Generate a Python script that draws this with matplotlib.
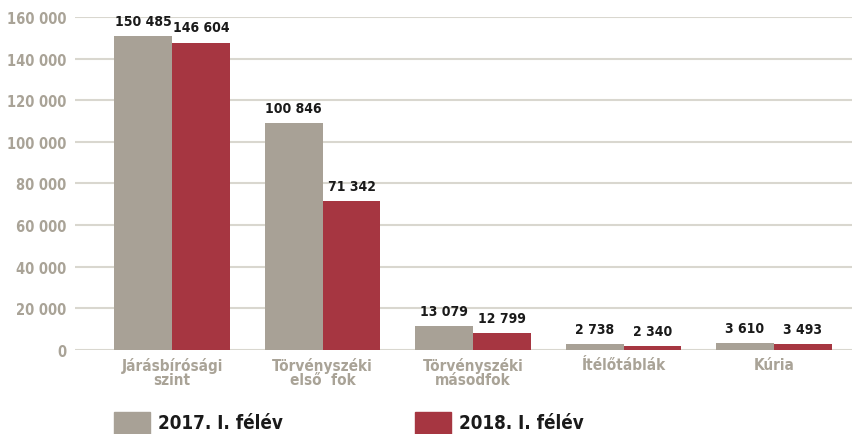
import numpy as np
import matplotlib.pyplot as plt
from matplotlib import font_manager
from matplotlib.patches import Rectangle

categories = ['Járásbírósági\nszint', 'Törvényszéki\nelső  fok', 'Törvényszéki\nmásodfok',
              'Ítélőtáblák', 'Kúria']
series_names = ['2017. I. félév', '2018. I. félév']
# bar heights as drawn in the picture
h2017 = [150800, 109000, 11400, 2700, 3200]
h2018 = [147700, 71500, 8000, 1800, 2700]
# value labels as printed above the bars
lab2017 = ['150 485', '100 846', '13 079', '2 738', '3 610']
lab2018 = ['146 604', '71 342', '12 799', '2 340', '3 493']
yticks = [0, 20000, 40000, 60000, 80000, 100000, 120000, 140000, 160000]

gray = '#A8A196'
red = '#A63641'
tick_col = '#A9A397'

# a narrow face if one exists, otherwise Lato
narrow = [f for f in font_manager.fontManager.ttflist
          if f.stretch in ('condensed', 'semi-condensed') or 'Narrow' in f.name or 'Condensed' in f.name]
if narrow:
    font_kw = dict(family=[narrow[0].name, 'DejaVu Sans'], stretch='condensed')
else:
    font_kw = dict(family=['Lato', 'DejaVu Sans'])
val_size, ytick_size, xtick_size, leg_size = 10, 10.5, 11, 13.5

W, H = 853, 435
fig = plt.figure(figsize=(W / 100, H / 100), dpi=100)
ax = fig.add_axes([75 / W, 1 - 350.7 / H, 778 / W, 332.5 / H])

x = np.arange(len(categories))
bw = 0.385
ax.bar(x - bw / 2, h2017, bw, color=gray, zorder=3)
ax.bar(x + bw / 2, h2018, bw, color=red, zorder=3)

for xs, hs, labs in [(x - bw / 2, h2017, lab2017), (x + bw / 2, h2018, lab2018)]:
    for xi, h, t in zip(xs, hs, labs):
        ax.annotate(t, (xi, h), xytext=(0, 6), textcoords='offset points',
                    ha='center', va='bottom', fontsize=val_size, fontweight='bold',
                    color='#1a1a1a', zorder=4, annotation_clip=False, **font_kw)

ax.set_xlim(-0.645, 4.525)
ax.set_ylim(0, 160000)
ax.set_yticks(yticks)
ax.set_yticklabels([f'{v:,}'.replace(',', ' ') for v in yticks])
ax.set_xticks(x)
ax.set_xticklabels(categories, linespacing=0.95)
for lbl, size in [(l, xtick_size) for l in ax.get_xticklabels()] + \
                 [(l, ytick_size) for l in ax.get_yticklabels()]:
    lbl.set_fontfamily(font_kw['family'])
    if 'stretch' in font_kw:
        lbl.set_fontstretch(font_kw['stretch'])
    lbl.set_fontweight('bold')
    lbl.set_fontsize(size)
    lbl.set_color(tick_col)
ax.tick_params(length=0)
ax.tick_params(axis='x', pad=5)
ax.tick_params(axis='y', pad=6)
ax.grid(axis='y', color='#D9D7CF', linewidth=1.5, zorder=0)
ax.set_axisbelow(True)
for s in ax.spines.values():
    s.set_visible(False)

# legend
for x0, col, name in [(114, gray, series_names[0]), (415, red, series_names[1])]:
    fig.patches.append(Rectangle((x0 / W, 0), 36 / W, (H - 413) / H, transform=fig.transFigure,
                                 color=col))
    fig.text((x0 + 44) / W, 1 - 414 / H, name, ha='left', va='top', fontsize=leg_size,
             fontweight='bold', color='#1a1a1a', **font_kw)

fig.savefig('out.png', dpi=100)
